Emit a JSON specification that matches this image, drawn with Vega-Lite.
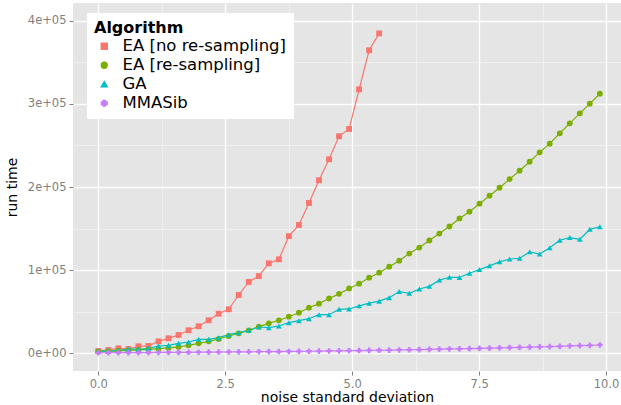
{
  "$schema": "https://vega.github.io/schema/vega-lite/v6.json",
  "autosize": {"type": "none"},
  "width": 548,
  "height": 368,
  "padding": {"left": 73, "top": 3, "right": 0, "bottom": 34},
  "background": "#FFFFFF",
  "datasets": {
    "runs": [
      {"Algorithm": "EA [no re-sampling]", "x": 0, "y": 2800},
      {"Algorithm": "EA [no re-sampling]", "x": 0.198, "y": 4000},
      {"Algorithm": "EA [no re-sampling]", "x": 0.395, "y": 6000},
      {"Algorithm": "EA [no re-sampling]", "x": 0.593, "y": 5200},
      {"Algorithm": "EA [no re-sampling]", "x": 0.790, "y": 8400},
      {"Algorithm": "EA [no re-sampling]", "x": 0.988, "y": 8800},
      {"Algorithm": "EA [no re-sampling]", "x": 1.186, "y": 14400},
      {"Algorithm": "EA [no re-sampling]", "x": 1.383, "y": 18000},
      {"Algorithm": "EA [no re-sampling]", "x": 1.581, "y": 22000},
      {"Algorithm": "EA [no re-sampling]", "x": 1.778, "y": 27700},
      {"Algorithm": "EA [no re-sampling]", "x": 1.976, "y": 32500},
      {"Algorithm": "EA [no re-sampling]", "x": 2.174, "y": 39700},
      {"Algorithm": "EA [no re-sampling]", "x": 2.371, "y": 47600},
      {"Algorithm": "EA [no re-sampling]", "x": 2.569, "y": 52900},
      {"Algorithm": "EA [no re-sampling]", "x": 2.766, "y": 70100},
      {"Algorithm": "EA [no re-sampling]", "x": 2.964, "y": 85800},
      {"Algorithm": "EA [no re-sampling]", "x": 3.162, "y": 92800},
      {"Algorithm": "EA [no re-sampling]", "x": 3.359, "y": 108200},
      {"Algorithm": "EA [no re-sampling]", "x": 3.557, "y": 113000},
      {"Algorithm": "EA [no re-sampling]", "x": 3.754, "y": 140900},
      {"Algorithm": "EA [no re-sampling]", "x": 3.952, "y": 154300},
      {"Algorithm": "EA [no re-sampling]", "x": 4.150, "y": 180800},
      {"Algorithm": "EA [no re-sampling]", "x": 4.347, "y": 208100},
      {"Algorithm": "EA [no re-sampling]", "x": 4.545, "y": 233300},
      {"Algorithm": "EA [no re-sampling]", "x": 4.742, "y": 261000},
      {"Algorithm": "EA [no re-sampling]", "x": 4.940, "y": 269800},
      {"Algorithm": "EA [no re-sampling]", "x": 5.138, "y": 317500},
      {"Algorithm": "EA [no re-sampling]", "x": 5.335, "y": 364400},
      {"Algorithm": "EA [no re-sampling]", "x": 5.533, "y": 384800},

      {"Algorithm": "EA [re-sampling]", "x": 0, "y": 2000},
      {"Algorithm": "EA [re-sampling]", "x": 0.198, "y": 2400},
      {"Algorithm": "EA [re-sampling]", "x": 0.395, "y": 2900},
      {"Algorithm": "EA [re-sampling]", "x": 0.593, "y": 3400},
      {"Algorithm": "EA [re-sampling]", "x": 0.790, "y": 4100},
      {"Algorithm": "EA [re-sampling]", "x": 0.988, "y": 4800},
      {"Algorithm": "EA [re-sampling]", "x": 1.186, "y": 5600},
      {"Algorithm": "EA [re-sampling]", "x": 1.383, "y": 6500},
      {"Algorithm": "EA [re-sampling]", "x": 1.581, "y": 7600},
      {"Algorithm": "EA [re-sampling]", "x": 1.778, "y": 9600},
      {"Algorithm": "EA [re-sampling]", "x": 1.976, "y": 12000},
      {"Algorithm": "EA [re-sampling]", "x": 2.174, "y": 14400},
      {"Algorithm": "EA [re-sampling]", "x": 2.371, "y": 17200},
      {"Algorithm": "EA [re-sampling]", "x": 2.569, "y": 20800},
      {"Algorithm": "EA [re-sampling]", "x": 2.766, "y": 24000},
      {"Algorithm": "EA [re-sampling]", "x": 2.964, "y": 27600},
      {"Algorithm": "EA [re-sampling]", "x": 3.162, "y": 32000},
      {"Algorithm": "EA [re-sampling]", "x": 3.359, "y": 36000},
      {"Algorithm": "EA [re-sampling]", "x": 3.557, "y": 39700},
      {"Algorithm": "EA [re-sampling]", "x": 3.754, "y": 44000},
      {"Algorithm": "EA [re-sampling]", "x": 3.952, "y": 48800},
      {"Algorithm": "EA [re-sampling]", "x": 4.150, "y": 54800},
      {"Algorithm": "EA [re-sampling]", "x": 4.347, "y": 59700},
      {"Algorithm": "EA [re-sampling]", "x": 4.545, "y": 65900},
      {"Algorithm": "EA [re-sampling]", "x": 4.742, "y": 71500},
      {"Algorithm": "EA [re-sampling]", "x": 4.940, "y": 78000},
      {"Algorithm": "EA [re-sampling]", "x": 5.138, "y": 83700},
      {"Algorithm": "EA [re-sampling]", "x": 5.335, "y": 90900},
      {"Algorithm": "EA [re-sampling]", "x": 5.533, "y": 96900},
      {"Algorithm": "EA [re-sampling]", "x": 5.730, "y": 104100},
      {"Algorithm": "EA [re-sampling]", "x": 5.928, "y": 111400},
      {"Algorithm": "EA [re-sampling]", "x": 6.126, "y": 120000},
      {"Algorithm": "EA [re-sampling]", "x": 6.323, "y": 127200},
      {"Algorithm": "EA [re-sampling]", "x": 6.521, "y": 135700},
      {"Algorithm": "EA [re-sampling]", "x": 6.718, "y": 144000},
      {"Algorithm": "EA [re-sampling]", "x": 6.916, "y": 152500},
      {"Algorithm": "EA [re-sampling]", "x": 7.114, "y": 162200},
      {"Algorithm": "EA [re-sampling]", "x": 7.311, "y": 170300},
      {"Algorithm": "EA [re-sampling]", "x": 7.509, "y": 179900},
      {"Algorithm": "EA [re-sampling]", "x": 7.706, "y": 189500},
      {"Algorithm": "EA [re-sampling]", "x": 7.904, "y": 199200},
      {"Algorithm": "EA [re-sampling]", "x": 8.102, "y": 209500},
      {"Algorithm": "EA [re-sampling]", "x": 8.299, "y": 219600},
      {"Algorithm": "EA [re-sampling]", "x": 8.497, "y": 230400},
      {"Algorithm": "EA [re-sampling]", "x": 8.694, "y": 241700},
      {"Algorithm": "EA [re-sampling]", "x": 8.892, "y": 252100},
      {"Algorithm": "EA [re-sampling]", "x": 9.090, "y": 264600},
      {"Algorithm": "EA [re-sampling]", "x": 9.287, "y": 276600},
      {"Algorithm": "EA [re-sampling]", "x": 9.485, "y": 288600},
      {"Algorithm": "EA [re-sampling]", "x": 9.682, "y": 300200},
      {"Algorithm": "EA [re-sampling]", "x": 9.880, "y": 312200},

      {"Algorithm": "GA", "x": 0, "y": 2600},
      {"Algorithm": "GA", "x": 0.198, "y": 3000},
      {"Algorithm": "GA", "x": 0.395, "y": 3200},
      {"Algorithm": "GA", "x": 0.593, "y": 5200},
      {"Algorithm": "GA", "x": 0.790, "y": 4800},
      {"Algorithm": "GA", "x": 0.988, "y": 6000},
      {"Algorithm": "GA", "x": 1.186, "y": 8800},
      {"Algorithm": "GA", "x": 1.383, "y": 9600},
      {"Algorithm": "GA", "x": 1.581, "y": 12000},
      {"Algorithm": "GA", "x": 1.778, "y": 13600},
      {"Algorithm": "GA", "x": 1.976, "y": 16800},
      {"Algorithm": "GA", "x": 2.174, "y": 16800},
      {"Algorithm": "GA", "x": 2.371, "y": 18800},
      {"Algorithm": "GA", "x": 2.569, "y": 22400},
      {"Algorithm": "GA", "x": 2.766, "y": 24800},
      {"Algorithm": "GA", "x": 2.964, "y": 27600},
      {"Algorithm": "GA", "x": 3.162, "y": 31600},
      {"Algorithm": "GA", "x": 3.359, "y": 30800},
      {"Algorithm": "GA", "x": 3.557, "y": 32800},
      {"Algorithm": "GA", "x": 3.754, "y": 36800},
      {"Algorithm": "GA", "x": 3.952, "y": 39200},
      {"Algorithm": "GA", "x": 4.150, "y": 41600},
      {"Algorithm": "GA", "x": 4.347, "y": 46400},
      {"Algorithm": "GA", "x": 4.545, "y": 46400},
      {"Algorithm": "GA", "x": 4.742, "y": 52900},
      {"Algorithm": "GA", "x": 4.940, "y": 53300},
      {"Algorithm": "GA", "x": 5.138, "y": 57000},
      {"Algorithm": "GA", "x": 5.335, "y": 60300},
      {"Algorithm": "GA", "x": 5.533, "y": 62700},
      {"Algorithm": "GA", "x": 5.730, "y": 66900},
      {"Algorithm": "GA", "x": 5.928, "y": 74300},
      {"Algorithm": "GA", "x": 6.126, "y": 72200},
      {"Algorithm": "GA", "x": 6.323, "y": 77300},
      {"Algorithm": "GA", "x": 6.521, "y": 80500},
      {"Algorithm": "GA", "x": 6.718, "y": 88000},
      {"Algorithm": "GA", "x": 6.916, "y": 91400},
      {"Algorithm": "GA", "x": 7.114, "y": 91200},
      {"Algorithm": "GA", "x": 7.311, "y": 96200},
      {"Algorithm": "GA", "x": 7.509, "y": 100700},
      {"Algorithm": "GA", "x": 7.706, "y": 105200},
      {"Algorithm": "GA", "x": 7.904, "y": 110000},
      {"Algorithm": "GA", "x": 8.102, "y": 113400},
      {"Algorithm": "GA", "x": 8.299, "y": 114300},
      {"Algorithm": "GA", "x": 8.497, "y": 122000},
      {"Algorithm": "GA", "x": 8.694, "y": 119300},
      {"Algorithm": "GA", "x": 8.892, "y": 127000},
      {"Algorithm": "GA", "x": 9.090, "y": 135900},
      {"Algorithm": "GA", "x": 9.287, "y": 139200},
      {"Algorithm": "GA", "x": 9.485, "y": 137100},
      {"Algorithm": "GA", "x": 9.682, "y": 149100},
      {"Algorithm": "GA", "x": 9.880, "y": 152100},

      {"Algorithm": "MMASib", "x": 0, "y": 600},
      {"Algorithm": "MMASib", "x": 0.198, "y": 650},
      {"Algorithm": "MMASib", "x": 0.395, "y": 700},
      {"Algorithm": "MMASib", "x": 0.593, "y": 800},
      {"Algorithm": "MMASib", "x": 0.790, "y": 850},
      {"Algorithm": "MMASib", "x": 0.988, "y": 900},
      {"Algorithm": "MMASib", "x": 1.186, "y": 1000},
      {"Algorithm": "MMASib", "x": 1.383, "y": 1050},
      {"Algorithm": "MMASib", "x": 1.581, "y": 1100},
      {"Algorithm": "MMASib", "x": 1.778, "y": 1200},
      {"Algorithm": "MMASib", "x": 1.976, "y": 1300},
      {"Algorithm": "MMASib", "x": 2.174, "y": 1400},
      {"Algorithm": "MMASib", "x": 2.371, "y": 1500},
      {"Algorithm": "MMASib", "x": 2.569, "y": 1600},
      {"Algorithm": "MMASib", "x": 2.766, "y": 1700},
      {"Algorithm": "MMASib", "x": 2.964, "y": 1800},
      {"Algorithm": "MMASib", "x": 3.162, "y": 1900},
      {"Algorithm": "MMASib", "x": 3.359, "y": 2000},
      {"Algorithm": "MMASib", "x": 3.557, "y": 2100},
      {"Algorithm": "MMASib", "x": 3.754, "y": 2200},
      {"Algorithm": "MMASib", "x": 3.952, "y": 2300},
      {"Algorithm": "MMASib", "x": 4.150, "y": 2450},
      {"Algorithm": "MMASib", "x": 4.347, "y": 2600},
      {"Algorithm": "MMASib", "x": 4.545, "y": 2800},
      {"Algorithm": "MMASib", "x": 4.742, "y": 2950},
      {"Algorithm": "MMASib", "x": 4.940, "y": 3100},
      {"Algorithm": "MMASib", "x": 5.138, "y": 3300},
      {"Algorithm": "MMASib", "x": 5.335, "y": 3500},
      {"Algorithm": "MMASib", "x": 5.533, "y": 3650},
      {"Algorithm": "MMASib", "x": 5.730, "y": 3800},
      {"Algorithm": "MMASib", "x": 5.928, "y": 4000},
      {"Algorithm": "MMASib", "x": 6.126, "y": 4250},
      {"Algorithm": "MMASib", "x": 6.323, "y": 4500},
      {"Algorithm": "MMASib", "x": 6.521, "y": 4700},
      {"Algorithm": "MMASib", "x": 6.718, "y": 4950},
      {"Algorithm": "MMASib", "x": 6.916, "y": 5200},
      {"Algorithm": "MMASib", "x": 7.114, "y": 5400},
      {"Algorithm": "MMASib", "x": 7.311, "y": 5650},
      {"Algorithm": "MMASib", "x": 7.509, "y": 5900},
      {"Algorithm": "MMASib", "x": 7.706, "y": 6200},
      {"Algorithm": "MMASib", "x": 7.904, "y": 6500},
      {"Algorithm": "MMASib", "x": 8.102, "y": 6800},
      {"Algorithm": "MMASib", "x": 8.299, "y": 7100},
      {"Algorithm": "MMASib", "x": 8.497, "y": 7400},
      {"Algorithm": "MMASib", "x": 8.694, "y": 7700},
      {"Algorithm": "MMASib", "x": 8.892, "y": 8000},
      {"Algorithm": "MMASib", "x": 9.090, "y": 8400},
      {"Algorithm": "MMASib", "x": 9.287, "y": 8800},
      {"Algorithm": "MMASib", "x": 9.485, "y": 9200},
      {"Algorithm": "MMASib", "x": 9.682, "y": 9600},
      {"Algorithm": "MMASib", "x": 9.880, "y": 10000}
    ]
  },
  "data": {"name": "runs"},
  "layer": [
    {
      "mark": {"type": "line", "strokeWidth": 1.2},
      "encoding": {
        "x": {
          "field": "x", "type": "quantitative",
          "scale": {"domain": [-0.498, 10.296], "nice": false, "zero": false},
          "axis": {"values": [1.25, 3.75, 6.25, 8.75], "grid": true, "gridColor": "#F2F2F2", "gridOpacity": 1, "gridWidth": 0.8, "labels": false, "ticks": false, "domain": false, "title": null, "orient": "bottom"}
        },
        "y": {
          "field": "y", "type": "quantitative",
          "scale": {"domain": [-21300, 421300], "nice": false, "zero": false},
          "axis": {"values": [50000, 150000, 250000, 350000], "grid": true, "gridColor": "#F2F2F2", "gridOpacity": 1, "gridWidth": 0.8, "labels": false, "ticks": false, "domain": false, "title": null, "orient": "left"}
        },
        "color": {
          "field": "Algorithm", "type": "nominal",
          "scale": {"domain": ["EA [no re-sampling]", "EA [re-sampling]", "GA", "MMASib"], "range": ["#F8766D", "#7CAE00", "#00BFC4", "#C77CFF"]},
          "legend": {"title": "Algorithm"}
        }
      }
    },
    {
      "mark": {"type": "point", "filled": true, "opacity": 1},
      "encoding": {
        "x": {
          "field": "x", "type": "quantitative",
          "axis": {"values": [0, 2.5, 5, 7.5, 10], "grid": true, "gridColor": "#FFFFFF", "gridOpacity": 1, "gridWidth": 1.3, "labelExpr": "format(datum.value, '.1f')", "title": "noise standard deviation", "orient": "bottom", "titlePadding": 1}
        },
        "y": {
          "field": "y", "type": "quantitative",
          "axis": {"values": [0, 100000, 200000, 300000, 400000], "grid": true, "gridColor": "#FFFFFF", "gridOpacity": 1, "gridWidth": 1.3, "labelExpr": "replace(format(datum.value, '.0e'), 'e+', 'e+0')", "title": "run time", "orient": "left", "titlePadding": 8}
        },
        "color": {
          "field": "Algorithm", "type": "nominal",
          "scale": {"domain": ["EA [no re-sampling]", "EA [re-sampling]", "GA", "MMASib"], "range": ["#F8766D", "#7CAE00", "#00BFC4", "#C77CFF"]},
          "legend": {"title": "Algorithm"}
        },
        "shape": {
          "field": "Algorithm", "type": "nominal",
          "scale": {"domain": ["EA [no re-sampling]", "EA [re-sampling]", "GA", "MMASib"], "range": ["square", "circle", "triangle-up", "cross"]},
          "legend": {"title": "Algorithm"}
        },
        "size": {
          "field": "Algorithm", "type": "nominal",
          "scale": {"domain": ["EA [no re-sampling]", "EA [re-sampling]", "GA", "MMASib"], "range": [34, 32, 40, 26]},
          "legend": null
        }
      }
    }
  ],
  "resolve": {"axis": {"x": "independent", "y": "independent"}},
  "config": {
    "font": "DejaVu Sans",
    "view": {"fill": "#E5E5E5", "stroke": null},
    "axis": {
      "domain": false,
      "grid": true,
      "tickColor": "#7F7F7F",
      "tickSize": 4,
      "tickWidth": 1,
      "labelColor": "#7F7F7F",
      "labelFontSize": 11.5,
      "labelPadding": 3,
      "titleFontSize": 14,
      "titleFontWeight": "normal",
      "titleColor": "#000000"
    },
    "legend": {
      "orient": "none",
      "legendX": 14,
      "legendY": 10,
      "fillColor": "#FFFFFF",
      "padding": 7,
      "titleFontSize": 16,
      "titleFontWeight": "bold",
      "titleColor": "#000000",
      "titlePadding": 2,
      "labelFontSize": 16.5,
      "labelColor": "#000000",
      "labelOffset": 10,
      "symbolSize": 40,
      "symbolOffset": 2,
      "rowPadding": 2,
      "labelLimit": 300
    }
  }
}
